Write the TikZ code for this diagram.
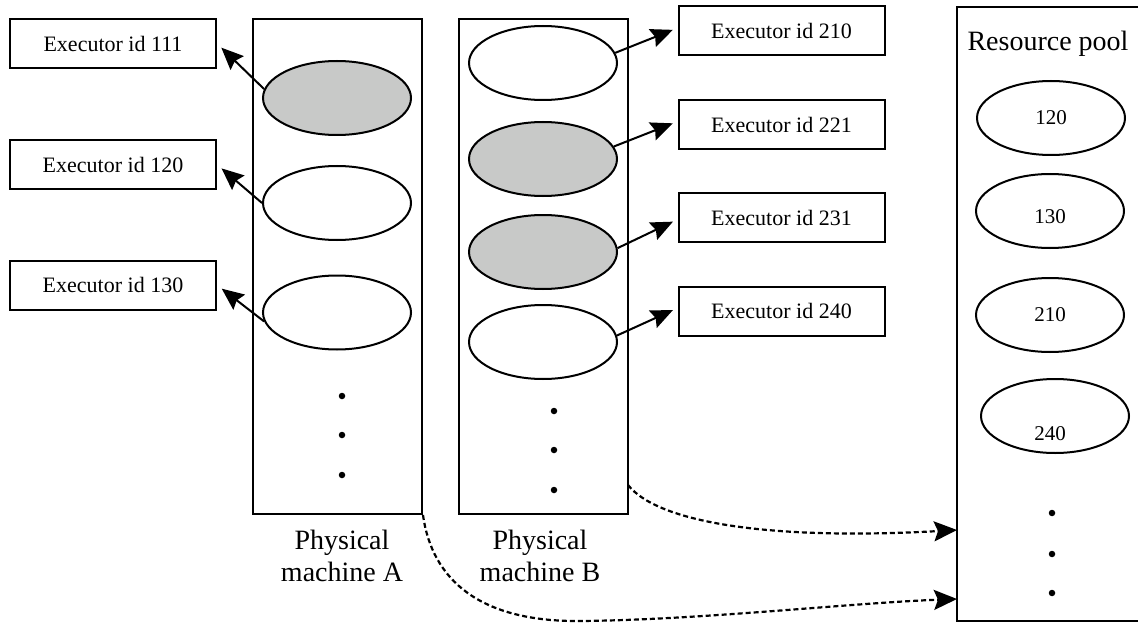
\documentclass[tikz,border=0pt]{standalone}
\usepackage{fontspec}
\setmainfont{Liberation Serif}
\usetikzlibrary{shapes.geometric,arrows.meta}
\definecolor{vmgray}{RGB}{200,201,200}
\begin{document}
\begin{tikzpicture}[x=1pt,y=-1pt,
  exbox/.style={draw, line width=2pt, minimum width=206pt, minimum height=49pt, inner sep=0pt, font=\fontsize{22}{26}\selectfont},
  machine/.style={draw, line width=2pt, minimum width=169pt, minimum height=495pt, inner sep=0pt},
  pool/.style={draw, line width=2pt, minimum width=185pt, minimum height=614pt, inner sep=0pt},
  vm/.style={draw, ellipse, line width=2pt, fill=white, minimum width=148pt, minimum height=74pt, inner sep=0pt, font=\fontsize{21}{25}\selectfont},
  busy/.style={vm, fill=vmgray},
  dotn/.style={circle, fill, inner sep=0pt, minimum size=6.5pt},
  arr/.style={line width=2pt, -{Stealth[length=22pt,width=19pt,inset=3pt]}},
  darr/.style={line width=2.2pt, dash pattern=on 5pt off 3pt, -{Stealth[length=23pt,width=20pt,inset=4pt]}},
  lbl/.style={font=\fontsize{28}{32}\selectfont, align=center, inner sep=0pt}
]
\useasboundingbox (0,0) rectangle (1138,623);

% machines and pool
\node[machine] (pmA) at (337.5,266.5) {};
\node[machine] (pmB) at (543.5,266.5) {};
\node[pool] (rp) at (1049.5,314) {};

% labels
\node[lbl] (labA) at (342,556) {Physical\\machine A};
\node[lbl] (labB) at (540,556) {Physical\\machine B};
\node[lbl] (rplab) at (1048,44) {Resource pool};

% executor boxes (left)
\node[exbox] (L1) at (113,43.5) {Executor id 111};
\node[exbox] (L2) at (113,164.5) {Executor id 120};
\node[exbox] (L3) at (113,285) {Executor id 130};

% executor boxes (right)
\node[exbox] (R1) at (781.5,31) {Executor id 210};
\node[exbox] (R2) at (781.5,124.5) {Executor id 221};
\node[exbox] (R3) at (781.5,217.5) {Executor id 231};
\node[exbox] (R4) at (781.5,311) {Executor id 240};

% VMs in machine A
\node[busy] (A1) at (337,98) {};
\node[vm] (A2) at (337,203) {};
\node[vm] (A3) at (337,312.5) {};
\node[dotn] (Ad1) at (342,396) {};
\node[dotn] (Ad2) at (342,435) {};
\node[dotn] (Ad3) at (342,475) {};

% VMs in machine B
\node[vm] (B1) at (543,63) {};
\node[busy] (B2) at (543,159) {};
\node[busy] (B3) at (543,252) {};
\node[vm] (B4) at (543,342) {};
\node[dotn] (Bd1) at (554,411) {};
\node[dotn] (Bd2) at (554,450) {};
\node[dotn] (Bd3) at (554,490) {};

% resource pool entries
\node[vm] (P1) at (1051,118) {120};
\node[vm, label={[font=\fontsize{21}{25}\selectfont, yshift=-6pt]center:130}] (P2) at (1050,211) {};
\node[vm] (P3) at (1050,315) {210};
\node[vm, label={[font=\fontsize{21}{25}\selectfont, xshift=-5pt, yshift=-18pt]center:240}] (P4) at (1055,416) {};
\node[dotn] (Pd1) at (1052,513) {};
\node[dotn] (Pd2) at (1052,554) {};
\node[dotn] (Pd3) at (1052,593) {};

% arrows A -> left boxes
\draw[arr, shorten >=6pt] (A1.173) -- (L1.east);
\draw[arr, shorten >=6pt] (A2.180) -- (L2.east);
\draw[arr, shorten >=6pt] (A3.187) -- (L3.east);

% arrows B -> right boxes
\draw[arr, shorten >=5pt] (B1.8) -- ([yshift=3pt]R1.west);
\draw[arr, shorten >=5pt] (B2.10) -- ([yshift=3pt]R2.west);
\draw[arr, shorten >=5pt] (B3.3) -- ([yshift=-2pt]R3.west);
\draw[arr, shorten >=5pt] (B4.5) -- ([yshift=3pt]R4.west);

% dashed connectors to the pool
\coordinate (sB) at (628,485);
\coordinate (eB) at (957,530);
\coordinate (eA) at (957,599);
\draw[darr] (sB) .. controls (660,525) and (780,540) .. (eB);
\draw[darr] (pmA.south east) .. controls (432,580) and (480,622) .. (580,621)
  .. controls (700,620) and (850,603) .. (eA);
\end{tikzpicture}
\end{document}
